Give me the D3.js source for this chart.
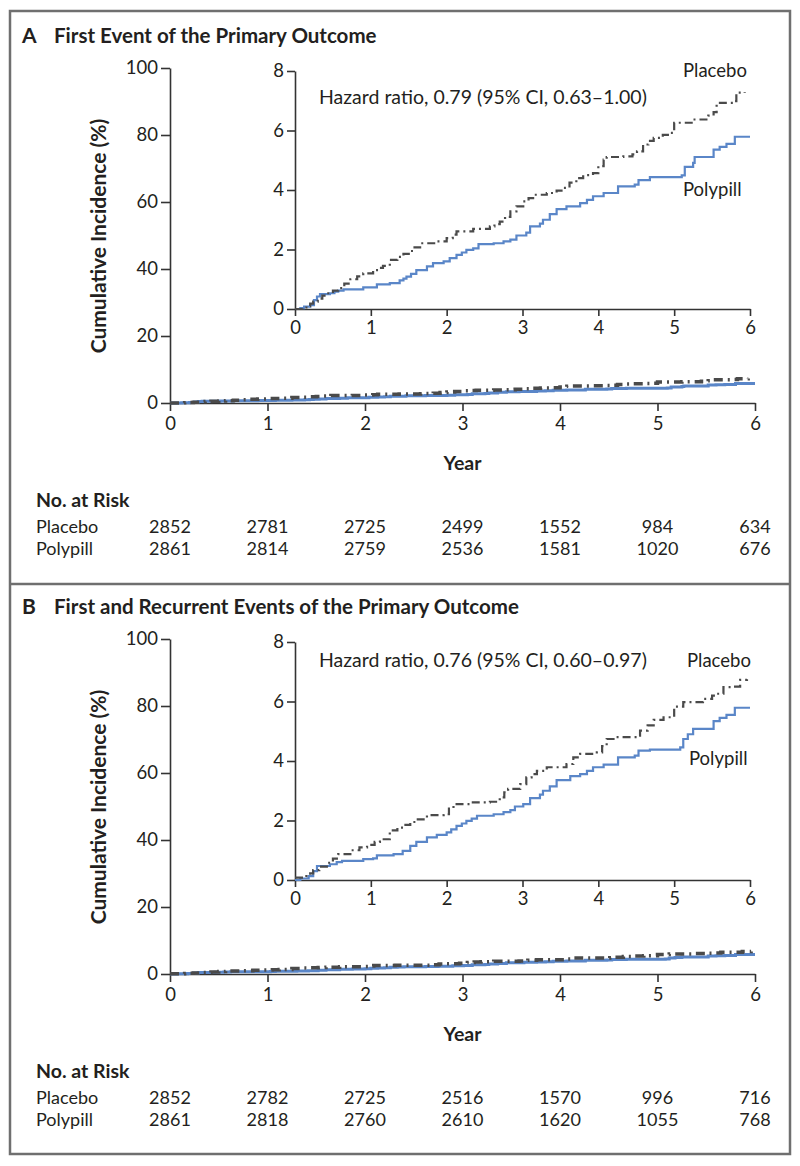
<!DOCTYPE html>
<html><head><meta charset="utf-8">
<script src="https://cdn.jsdelivr.net/npm/d3@7"></script>
<style>
body{margin:0;background:#fff}
svg text{font-family:Lato,'Open Sans',sans-serif;fill:#231f20}
</style></head>
<body><svg id="c" width="800" height="1166"></svg>
<script>
// ---- data ----
const years = [0,1,2,3,4,5,6];
const yTicksMain = [0,20,40,60,80,100];
const yTicksInset = [0,2,4,6,8];
const seriesNames = ["Placebo","Polypill"];
const titleA = "First Event of the Primary Outcome";
const titleB = "First and Recurrent Events of the Primary Outcome";
const hazardA = "Hazard ratio, 0.79 (95% CI, 0.63\u20131.00)";
const hazardB = "Hazard ratio, 0.76 (95% CI, 0.60\u20130.97)";
const riskPlaceboA = [2852,2781,2725,2499,1552,984,634];
const riskPolypillA = [2861,2814,2759,2536,1581,1020,676];
const riskPlaceboB = [2852,2782,2725,2516,1570,996,716];
const riskPolypillB = [2861,2818,2760,2610,1620,1055,768];

const placeboA = [[0,0],[0.1,0.05],[0.15,0.1],[0.2,0.18],[0.24,0.25],[0.3,0.35],[0.36,0.45],[0.42,0.53],[0.5,0.62],[0.57,0.7],[0.65,0.85],[0.73,1.0],[0.82,1.1],[0.9,1.2],[1.03,1.31],[1.1,1.38],[1.16,1.45],[1.25,1.65],[1.35,1.75],[1.43,1.85],[1.5,1.95],[1.56,2.07],[1.65,2.21],[1.87,2.27],[2.0,2.38],[2.08,2.5],[2.13,2.61],[2.35,2.69],[2.57,2.78],[2.63,2.85],[2.7,2.94],[2.77,3.1],[2.84,3.28],[2.92,3.45],[3.01,3.62],[3.08,3.73],[3.14,3.84],[3.32,3.9],[3.45,3.98],[3.54,4.07],[3.62,4.25],[3.71,4.4],[3.8,4.5],[3.93,4.57],[4.0,4.8],[4.07,5.02],[4.11,5.11],[4.33,5.13],[4.45,5.2],[4.51,5.3],[4.59,5.53],[4.66,5.65],[4.73,5.75],[4.85,5.85],[4.95,5.92],[5.0,6.26],[5.25,6.37],[5.45,6.5],[5.52,6.62],[5.56,6.93],[5.78,6.99],[5.82,7.27],[5.93,7.29]];
const polypillA = [[0,0],[0.07,0.03],[0.12,0.08],[0.2,0.13],[0.25,0.3],[0.29,0.42],[0.33,0.5],[0.46,0.53],[0.52,0.58],[0.57,0.62],[0.64,0.66],[0.9,0.73],[1.08,0.83],[1.25,0.87],[1.38,0.96],[1.43,1.02],[1.47,1.09],[1.53,1.18],[1.6,1.31],[1.74,1.43],[1.82,1.54],[1.96,1.6],[2.04,1.71],[2.13,1.82],[2.2,1.9],[2.26,1.99],[2.35,2.04],[2.42,2.18],[2.62,2.21],[2.75,2.27],[2.84,2.33],[2.92,2.47],[3.05,2.57],[3.1,2.78],[3.23,2.87],[3.27,3.0],[3.36,3.19],[3.45,3.36],[3.58,3.45],[3.76,3.56],[3.85,3.67],[3.93,3.79],[4.07,3.9],[4.26,4.12],[4.48,4.18],[4.53,4.33],[4.68,4.43],[5.1,4.49],[5.14,4.78],[5.25,4.91],[5.27,5.11],[5.52,5.36],[5.6,5.45],[5.69,5.55],[5.8,5.79],[6.0,5.79]];
const placeboB = [[0,0.08],[0.15,0.13],[0.2,0.22],[0.24,0.33],[0.32,0.45],[0.42,0.58],[0.5,0.72],[0.57,0.87],[0.73,1.0],[0.85,1.1],[0.95,1.18],[1.05,1.28],[1.12,1.37],[1.25,1.67],[1.35,1.76],[1.43,1.85],[1.52,1.95],[1.6,2.04],[1.74,2.18],[1.96,2.21],[2.03,2.4],[2.09,2.55],[2.31,2.61],[2.57,2.63],[2.7,2.78],[2.76,2.95],[2.81,3.06],[2.97,3.22],[3.05,3.45],[3.12,3.56],[3.19,3.67],[3.32,3.79],[3.58,3.9],[3.67,4.12],[3.76,4.24],[3.98,4.29],[4.05,4.5],[4.11,4.74],[4.2,4.8],[4.51,4.85],[4.55,5.02],[4.65,5.2],[4.73,5.38],[4.86,5.47],[5.0,5.83],[5.12,5.98],[5.38,6.09],[5.5,6.2],[5.56,6.26],[5.65,6.48],[5.78,6.5],[5.87,6.73],[5.96,6.75]];
const polypillB = [[0,0],[0.07,0.05],[0.18,0.13],[0.24,0.3],[0.29,0.47],[0.46,0.53],[0.55,0.6],[0.62,0.64],[0.9,0.7],[1.03,0.73],[1.08,0.83],[1.3,0.87],[1.42,0.98],[1.52,1.15],[1.6,1.28],[1.74,1.43],[1.87,1.52],[2.0,1.6],[2.06,1.7],[2.13,1.82],[2.2,1.9],[2.26,1.99],[2.33,2.06],[2.4,2.16],[2.62,2.21],[2.75,2.28],[2.84,2.35],[2.9,2.47],[3.01,2.55],[3.1,2.75],[3.23,2.87],[3.27,3.0],[3.36,3.15],[3.45,3.36],[3.63,3.49],[3.76,3.56],[3.85,3.67],[3.93,3.79],[4.07,3.88],[4.26,4.12],[4.48,4.18],[4.53,4.35],[4.68,4.38],[5.08,4.46],[5.12,4.74],[5.18,4.9],[5.25,5.08],[5.52,5.34],[5.6,5.45],[5.69,5.55],[5.8,5.79],[6.0,5.79]];

// ---- styles ----
const BLUE = "#5a86c8", GRAY = "#4a4a4a", AXIS = "#333";

const svg = d3.select("#c");
svg.append("rect").attr("x",0).attr("y",0).attr("width",800).attr("height",1166).attr("fill","#fff");
svg.append("rect").attr("x",10).attr("y",11).attr("width",780).attr("height",1143)
  .attr("fill","none").attr("stroke","#6f6f6f").attr("stroke-width",2.5);
svg.append("line").attr("x1",10).attr("x2",790).attr("y1",584).attr("y2",584)
  .attr("stroke","#6f6f6f").attr("stroke-width",2.5);

function styleAxis(sel, fs){
  sel.attr("font-size",null).attr("font-family",null);
  sel.selectAll("path.domain").attr("stroke",AXIS).attr("stroke-width",1.6);
  sel.selectAll(".tick line").attr("stroke",AXIS).attr("stroke-width",1.6);
  sel.selectAll(".tick text").attr("fill","#231f20").style("font-size",fs+"px");
}

function panel(oy, cfg){
  const g = svg.append("g").attr("transform",`translate(0,${oy})`);
  // title
  g.append("text").attr("x",22).attr("y",43).style("font-weight",700).style("font-size","21px").text(cfg.letter);
  g.append("text").attr("x",54).attr("y",43).style("font-weight",700).style("font-size","20.5px").text(cfg.title);

  const mx = d3.scaleLinear().domain([0,6]).range([170,755]);
  const my = d3.scaleLinear().domain([0,100]).range([403,68]);
  const ix = d3.scaleLinear().domain([0,6]).range([295,750]);
  const iy = d3.scaleLinear().domain([0,8]).range([309,71]);

  g.append("g").attr("transform","translate(0,403)")
    .call(d3.axisBottom(mx).tickValues(years).tickSize(8).tickSizeOuter(0).tickPadding(6).tickFormat(d3.format("d")))
    .call(s=>styleAxis(s,18.5));
  g.append("g").attr("transform","translate(170,0)")
    .call(d3.axisLeft(my).tickValues(yTicksMain).tickSize(9).tickSizeOuter(0).tickPadding(3).tickFormat(d3.format("d")))
    .call(s=>styleAxis(s,18.5));
  g.append("g").attr("transform","translate(0,309)")
    .call(d3.axisBottom(ix).tickValues(years).tickSize(7).tickSizeOuter(0).tickPadding(5).tickFormat(d3.format("d")))
    .call(s=>styleAxis(s,18.5));
  g.append("g").attr("transform","translate(295,0)")
    .call(d3.axisLeft(iy).tickValues(yTicksInset).tickSize(8).tickSizeOuter(0).tickPadding(3).tickFormat(d3.format("d")))
    .call(s=>styleAxis(s,18.5));

  const lm = d3.line().curve(d3.curveStepAfter).x(d=>mx(d[0])).y(d=>my(d[1]));
  const li = d3.line().curve(d3.curveStepAfter).x(d=>ix(d[0])).y(d=>iy(d[1]));

  g.append("path").attr("d",lm(cfg.poly)).attr("fill","none").attr("stroke",BLUE).attr("stroke-width",3);
  g.append("path").attr("d",lm(cfg.plac)).attr("fill","none").attr("stroke",GRAY).attr("stroke-width",3.5)
    .attr("stroke-dasharray","9,5,2,5");
  g.append("path").attr("d",li(cfg.poly)).attr("fill","none").attr("stroke",BLUE).attr("stroke-width",2.2);
  g.append("path").attr("d",li(cfg.plac)).attr("fill","none").attr("stroke",GRAY).attr("stroke-width",2.2)
    .attr("stroke-dasharray","8,4,2,4");

  // inset labels
  g.append("text").attr("x",319).attr("y",cfg.hy).style("font-size","19.5px").text(cfg.hazard);
  g.append("text").attr("x",cfg.plx).attr("y",cfg.ply).style("font-size","18.5px").text(seriesNames[0]);
  g.append("text").attr("x",cfg.pox).attr("y",cfg.poy).style("font-size","18.5px").text(seriesNames[1]);

  // axis titles
  g.append("text").attr("transform","translate(106,236) rotate(-90)").attr("text-anchor","middle")
    .style("font-weight",700).style("font-size","21px").text("Cumulative Incidence (%)");
  g.append("text").attr("x",mx(3)).attr("y",470).attr("text-anchor","middle")
    .style("font-weight",700).style("font-size","19.5px").text("Year");

  // risk table
  g.append("text").attr("x",36).attr("y",507).style("font-weight",700).style("font-size","19.5px").text("No. at Risk");
  const rows = [[seriesNames[0],cfg.riskPlac,533],[seriesNames[1],cfg.riskPoly,555]];
  rows.forEach(([name,vals,y])=>{
    g.append("text").attr("x",36).attr("y",y).style("font-size","18px").text(name);
    g.selectAll(null).data(vals).enter().append("text")
      .attr("x",(d,i)=>mx(years[i])).attr("y",y).attr("text-anchor","middle")
      .style("font-size","18px").text(d=>d);
  });
}

panel(0,{letter:"A",title:titleA,hazard:hazardA,hy:104,plx:683,ply:77,pox:683,poy:196,
  plac:placeboA,poly:polypillA,riskPlac:riskPlaceboA,riskPoly:riskPolypillA});
panel(571,{letter:"B",title:titleB,hazard:hazardB,hy:96,plx:687,ply:96,pox:689,poy:194,
  plac:placeboB,poly:polypillB,riskPlac:riskPlaceboB,riskPoly:riskPolypillB});
</script></body></html>
